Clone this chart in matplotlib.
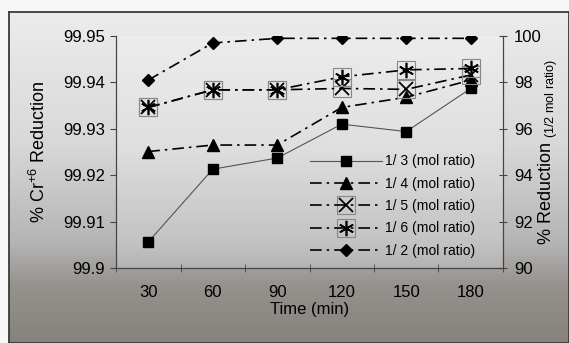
import numpy as np
import matplotlib
matplotlib.use('Agg')
import matplotlib.pyplot as plt
from matplotlib.colors import LinearSegmentedColormap
from matplotlib.legend_handler import HandlerTuple

plt.rcParams['font.family'] = ['Liberation Sans', 'DejaVu Sans']
plt.rcParams['mathtext.fontset'] = 'custom'
plt.rcParams['mathtext.rm'] = 'Liberation Sans'
plt.rcParams['mathtext.it'] = 'Liberation Sans'

# Dados
tempos = ['30', '60', '90', '120', '150', '180']
razao_13 = [99.9056, 99.9213, 99.9237, 99.9310, 99.9294, 99.9387]
razao_14 = [99.9251, 99.9265, 99.9265, 99.9346, 99.9368, 99.9405]
razao_15 = [99.9346, 99.9384, 99.9384, 99.9387, 99.9385, 99.9416]
razao_16 = [99.9346, 99.9384, 99.9384, 99.9412, 99.9427, 99.9430]
razao_12 = [98.1, 99.7, 99.9, 99.9, 99.9, 99.9]  # eixo direito

fig = plt.figure(figsize=(5.69, 3.43), dpi=100)
fig.patch.set_facecolor('#f7f7f7')

# Fundo em degradê (imitando a imagem escaneada)
cmap_fundo = LinearSegmentedColormap.from_list(
    'fundo', [(0, '#ececec'), (0.4, '#d8d8d8'), (0.7, '#b4b4b4'),
              (0.83, '#95918d'), (1, '#86827e')])
bg = fig.add_axes([9 / 569, 0, 1 - 9 / 569, 1 - 12 / 343], zorder=-5)
grad = np.linspace(0, 1, 256)[:, None] * np.ones((1, 64))
bg.imshow(grad, aspect='auto', cmap=cmap_fundo, vmin=0, vmax=1,
          extent=[0, 1, 0, 1], origin='upper')
bg.set_xticks([])
bg.set_yticks([])
for s in bg.spines.values():
    s.set_color('#3a3a3a')
    s.set_linewidth(1.3)

ax = fig.add_axes([116 / 569, 1 - 268 / 343, 387 / 569, 232 / 343])
ax.set_facecolor((1, 1, 1, 0.2))
x = np.arange(len(tempos))

dashdot = (0, (7, 3, 1.5, 3))

l13, = ax.plot(x, razao_13, color='#555555', lw=0.8, marker='s', ms=7,
               mfc='black', mec='black')
l14, = ax.plot(x, razao_14, color='black', lw=1.2, ls=dashdot, marker='^',
               ms=8, mfc='black', mec='black')
b15, = ax.plot(x, razao_15, ls='none', marker='s', ms=13, mfc='none',
               mec='#888888', mew=0.8)
l15, = ax.plot(x, razao_15, color='black', lw=1.2, ls=dashdot, marker='x',
               ms=10, mec='black', mew=1.3)
b16, = ax.plot(x, razao_16, ls='none', marker='s', ms=13, mfc='none',
               mec='#888888', mew=0.8)
l16, = ax.plot(x, razao_16, color='black', lw=1.2, ls=dashdot,
               marker=(6, 2, 0), ms=11, mec='black', mew=1.2)

ax.set_xlim(-0.5, len(tempos) - 0.5)
ax.set_ylim(99.9, 99.95)
yt = [99.9, 99.91, 99.92, 99.93, 99.94, 99.95]
ax.set_yticks(yt)
ax.set_yticklabels(['99.9', '99.91', '99.92', '99.93', '99.94', '99.95'])
ax.set_xticks(x)
ax.set_xticklabels(tempos)
ax.set_xticks(np.arange(-0.5, len(tempos)), minor=True)
ax.tick_params(axis='x', which='major', length=0, pad=12, labelsize=12)
ax.tick_params(axis='x', which='minor', direction='inout', length=6,
               color='#444444')
ax.tick_params(axis='y', direction='out', length=4, pad=4, labelsize=12,
               color='#444444')
ax.spines['top'].set_visible(False)
for s in ['left', 'right', 'bottom']:
    ax.spines[s].set_color('#444444')
    ax.spines[s].set_linewidth(0.8)

ax.set_xlabel('Time (min)', fontsize=12, labelpad=2)
ax.set_ylabel(r'% Cr$^{+6}$ Reduction', fontsize=13, labelpad=10)

ax2 = ax.twinx()
l12, = ax2.plot(x, razao_12, color='black', lw=1.2, ls=dashdot, marker='D',
                ms=6, mfc='black', mec='black')
ax2.set_ylim(90, 100)
ax2.set_yticks([90, 92, 94, 96, 98, 100])
ax2.tick_params(axis='y', direction='inout', length=6, pad=5, labelsize=12,
                color='#444444')
ax2.spines['top'].set_visible(False)
for s in ['left', 'right', 'bottom']:
    ax2.spines[s].set_color('#444444')
    ax2.spines[s].set_linewidth(0.8)
ax2.set_ylabel(r'% Reduction $_{\mathrm{(1/2\ mol\ ratio)}}$', fontsize=13,
               labelpad=-4)

handles = [l13, l14, (b15, l15), (b16, l16), l12]
labels = ['1/ 3 (mol ratio)', '1/ 4 (mol ratio)', '1/ 5 (mol ratio)',
          '1/ 6 (mol ratio)', '1/ 2 (mol ratio)']
ax2.legend(handles, labels, loc='lower right', bbox_to_anchor=(0.96, -0.01),
           frameon=False, fontsize=10, handlelength=5.2, labelspacing=0.6,
           handletextpad=0.2,
           handler_map={tuple: HandlerTuple(ndivide=1, pad=0)})

plt.savefig('out.png', dpi=100, facecolor=fig.get_facecolor())
plt.close()
